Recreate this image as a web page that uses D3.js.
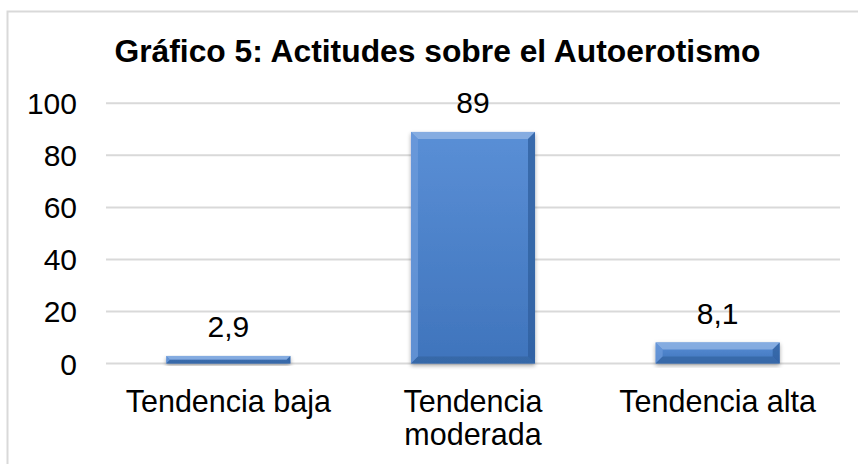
<!DOCTYPE html>
<html>
<head>
<meta charset="utf-8">
<script src="https://cdn.jsdelivr.net/npm/d3@7"></script>
<style>
  html, body { margin: 0; padding: 0; background: #fff; }
  svg { display: block; font-family: "Liberation Sans", Arial, sans-serif; }
</style>
</head>
<body>
<svg id="chart" width="858" height="464"></svg>
<script>
// chart data
const categories = ['Tendencia baja', 'Tendencia moderada', 'Tendencia alta'];
const categoryLines = [['Tendencia baja'], ['Tendencia', 'moderada'], ['Tendencia alta']];
const values = [2.9, 89, 8.1];
const valueLabels = ['2,9', '89', '8,1'];
const yTicks = [0, 20, 40, 60, 80, 100];
const title = 'Gráfico 5: Actitudes sobre el Autoerotismo';

const svg = d3.select('#chart');
const width = 858, height = 464;
const plot = { left: 106, right: 840, top: 103.3, bottom: 363.5 };

const x = d3.scaleBand()
    .domain(categories)
    .range([plot.left, plot.right])
    .paddingInner(0.493)
    .paddingOuter(0.2465);

const y = d3.scaleLinear()
    .domain([0, 100])
    .range([plot.bottom, plot.top]);

// defs: gradients + shadow
const defs = svg.append('defs');
const grad = defs.append('linearGradient')
    .attr('id', 'barFill').attr('x1', 0).attr('y1', 0).attr('x2', 0).attr('y2', 1);
grad.append('stop').attr('offset', '0%').attr('stop-color', '#5a8fd6');
grad.append('stop').attr('offset', '100%').attr('stop-color', '#3f74bc');

const shadow = defs.append('filter').attr('id', 'shadow')
    .attr('x', '-20%').attr('y', '-20%').attr('width', '140%').attr('height', '140%');
shadow.append('feGaussianBlur').attr('in', 'SourceAlpha').attr('stdDeviation', 2.2);
shadow.append('feOffset').attr('dx', 0).attr('dy', 1.5).attr('result', 'blur');
shadow.append('feComponentTransfer').append('feFuncA').attr('type', 'linear').attr('slope', 0.35);
const merge = shadow.append('feMerge');
merge.append('feMergeNode');
merge.append('feMergeNode').attr('in', 'SourceGraphic');

// frame (only left and top edges are visible in the crop)
svg.append('path')
    .attr('d', `M7.5,${height} V11.5 H${width}`)
    .attr('fill', 'none')
    .attr('stroke', '#d9d9d9')
    .attr('stroke-width', 2);

// title
svg.append('text')
    .attr('x', 437.5)
    .attr('y', 61.5)
    .attr('text-anchor', 'middle')
    .attr('font-size', 31.8)
    .attr('font-weight', 'bold')
    .attr('fill', '#000')
    .text(title);

// gridlines
svg.append('g')
    .selectAll('line')
    .data(yTicks)
    .join('line')
    .attr('x1', plot.left).attr('x2', plot.right)
    .attr('y1', d => y(d)).attr('y2', d => y(d))
    .attr('stroke', '#d9d9d9')
    .attr('stroke-width', 2);

// y tick labels
svg.append('g')
    .selectAll('text')
    .data(yTicks)
    .join('text')
    .attr('x', 77)
    .attr('y', d => y(d) + 11)
    .attr('text-anchor', 'end')
    .attr('font-size', 30)
    .attr('fill', '#000')
    .text(d => d);

// bars with bevel
const bars = svg.append('g')
    .selectAll('g')
    .data(values)
    .join('g')
    .attr('filter', 'url(#shadow)');

bars.each(function(v, i) {
    const g = d3.select(this);
    const x0 = x(categories[i]), w = x.bandwidth();
    const y0 = y(v), h = y(0) - y(v);
    const b = Math.min(7, h / 2);
    g.append('rect')
        .attr('x', x0).attr('y', y0).attr('width', w).attr('height', h)
        .attr('fill', 'url(#barFill)');
    // top bevel
    g.append('path')
        .attr('d', `M${x0},${y0} H${x0 + w} L${x0 + w - b},${y0 + b} H${x0 + b} Z`)
        .attr('fill', '#8db1e3').attr('opacity', 0.85);
    // left bevel
    g.append('path')
        .attr('d', `M${x0},${y0} L${x0 + b},${y0 + b} V${y0 + h - b} L${x0},${y0 + h} Z`)
        .attr('fill', '#6d9bdb').attr('opacity', 0.7);
    // right bevel
    g.append('path')
        .attr('d', `M${x0 + w},${y0} L${x0 + w - b},${y0 + b} V${y0 + h - b} L${x0 + w},${y0 + h} Z`)
        .attr('fill', '#2f5f9e').attr('opacity', 0.75);
    // bottom bevel
    g.append('path')
        .attr('d', `M${x0},${y0 + h} L${x0 + b},${y0 + h - b} H${x0 + w - b} L${x0 + w},${y0 + h} Z`)
        .attr('fill', '#33649f').attr('opacity', 0.7);
});

// value labels
svg.append('g')
    .selectAll('text')
    .data(values)
    .join('text')
    .attr('x', (d, i) => x(categories[i]) + x.bandwidth() / 2)
    .attr('y', d => y(d) - 18.5)
    .attr('text-anchor', 'middle')
    .attr('font-size', 30)
    .attr('fill', '#000')
    .text((d, i) => valueLabels[i]);

// category labels
const catLabels = svg.append('g')
    .selectAll('text')
    .data(categories)
    .join('text')
    .attr('x', d => x(d) + x.bandwidth() / 2)
    .attr('y', 412)
    .attr('text-anchor', 'middle')
    .attr('font-size', 30.5)
    .attr('fill', '#000');

catLabels.selectAll('tspan')
    .data((d, i) => categoryLines[i])
    .join('tspan')
    .attr('x', function() { return d3.select(this.parentNode).attr('x'); })
    .attr('dy', (d, j) => j === 0 ? 0 : 33)
    .text(d => d);
</script>
</body>
</html>
